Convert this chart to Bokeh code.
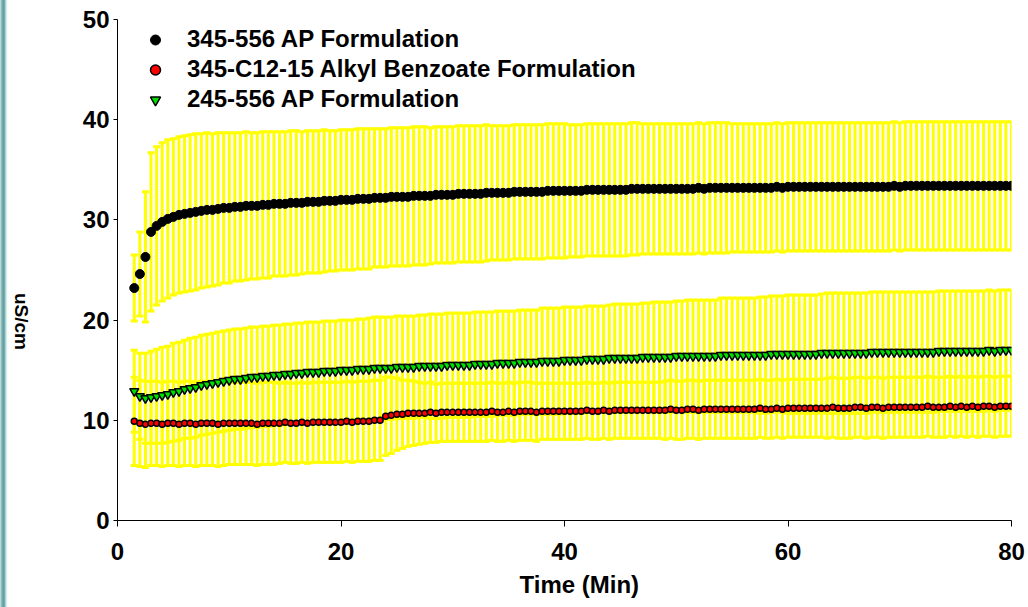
import math
from bokeh.plotting import figure
from bokeh.layouts import row
from bokeh.models import (ColumnDataSource, Whisker, TeeHead, Legend, LegendItem,
                          Range1d, FixedTicker, Div, Title)
from bokeh.embed import file_html
from bokeh.resources import INLINE

# ---------------- data ----------------
time_min = [
    1.5, 2.0, 2.5, 3.0, 3.5, 4.0, 4.5, 5.0, 5.5, 6.0,
    6.5, 7.0, 7.5, 8.0, 8.5, 9.0, 9.5, 10.0, 10.5, 11.0,
    11.5, 12.0, 12.5, 13.0, 13.5, 14.0, 14.5, 15.0, 15.5, 16.0,
    16.5, 17.0, 17.5, 18.0, 18.5, 19.0, 19.5, 20.0, 20.5, 21.0,
    21.5, 22.0, 22.5, 23.0, 23.5, 24.0, 24.5, 25.0, 25.5, 26.0,
    26.5, 27.0, 27.5, 28.0, 28.5, 29.0, 29.5, 30.0, 30.5, 31.0,
    31.5, 32.0, 32.5, 33.0, 33.5, 34.0, 34.5, 35.0, 35.5, 36.0,
    36.5, 37.0, 37.5, 38.0, 38.5, 39.0, 39.5, 40.0, 40.5, 41.0,
    41.5, 42.0, 42.5, 43.0, 43.5, 44.0, 44.5, 45.0, 45.5, 46.0,
    46.5, 47.0, 47.5, 48.0, 48.5, 49.0, 49.5, 50.0, 50.5, 51.0,
    51.5, 52.0, 52.5, 53.0, 53.5, 54.0, 54.5, 55.0, 55.5, 56.0,
    56.5, 57.0, 57.5, 58.0, 58.5, 59.0, 59.5, 60.0, 60.5, 61.0,
    61.5, 62.0, 62.5, 63.0, 63.5, 64.0, 64.5, 65.0, 65.5, 66.0,
    66.5, 67.0, 67.5, 68.0, 68.5, 69.0, 69.5, 70.0, 70.5, 71.0,
    71.5, 72.0, 72.5, 73.0, 73.5, 74.0, 74.5, 75.0, 75.5, 76.0,
    76.5, 77.0, 77.5, 78.0, 78.5, 79.0, 79.5, 80.0,
]

# 345-556 AP Formulation
ap345_mean = [
    23.2, 24.6, 26.3, 28.8, 29.4, 29.8, 30.1, 30.3, 30.5, 30.6,
    30.7, 30.8, 30.9, 31.0, 31.0, 31.1, 31.2, 31.2, 31.3, 31.3,
    31.4, 31.4, 31.4, 31.5, 31.5, 31.6, 31.6, 31.6, 31.7, 31.7,
    31.7, 31.8, 31.8, 31.8, 31.9, 31.9, 31.9, 32.0, 32.0, 32.0,
    32.1, 32.1, 32.1, 32.2, 32.2, 32.2, 32.3, 32.3, 32.3, 32.3,
    32.4, 32.4, 32.4, 32.4, 32.5, 32.5, 32.5, 32.5, 32.6, 32.6,
    32.6, 32.6, 32.6, 32.7, 32.7, 32.7, 32.7, 32.7, 32.8, 32.8,
    32.8, 32.8, 32.8, 32.8, 32.9, 32.9, 32.9, 32.9, 32.9, 32.9,
    32.9, 33.0, 33.0, 33.0, 33.0, 33.0, 33.0, 33.0, 33.0, 33.1,
    33.1, 33.1, 33.1, 33.1, 33.1, 33.1, 33.1, 33.1, 33.1, 33.1,
    33.1, 33.2, 33.1, 33.2, 33.2, 33.2, 33.2, 33.2, 33.2, 33.2,
    33.2, 33.2, 33.2, 33.2, 33.2, 33.3, 33.2, 33.3, 33.3, 33.3,
    33.3, 33.3, 33.3, 33.3, 33.3, 33.3, 33.3, 33.3, 33.3, 33.3,
    33.3, 33.3, 33.3, 33.3, 33.3, 33.3, 33.4, 33.3, 33.4, 33.4,
    33.4, 33.4, 33.4, 33.4, 33.4, 33.4, 33.4, 33.4, 33.4, 33.4,
    33.4, 33.4, 33.4, 33.4, 33.4, 33.4, 33.4, 33.4,
]
ap345_sd = [
    3.3, 4.2, 6.5, 7.9, 7.9, 7.9, 7.9, 7.8, 7.8, 7.8,
    7.8, 7.8, 7.7, 7.7, 7.6, 7.6, 7.5, 7.5, 7.4, 7.4,
    7.4, 7.3, 7.3, 7.3, 7.3, 7.2, 7.2, 7.2, 7.2, 7.2,
    7.1, 7.1, 7.1, 7.1, 7.1, 7.0, 7.0, 7.0, 7.0, 7.0,
    7.0, 7.0, 7.0, 6.9, 6.9, 6.9, 6.9, 6.9, 6.9, 6.9,
    6.9, 6.9, 6.9, 6.8, 6.8, 6.8, 6.8, 6.8, 6.8, 6.8,
    6.8, 6.8, 6.8, 6.8, 6.7, 6.7, 6.7, 6.7, 6.7, 6.7,
    6.7, 6.7, 6.7, 6.7, 6.7, 6.7, 6.7, 6.7, 6.6, 6.6,
    6.6, 6.6, 6.6, 6.6, 6.6, 6.6, 6.6, 6.6, 6.6, 6.6,
    6.6, 6.5, 6.5, 6.5, 6.5, 6.5, 6.5, 6.5, 6.5, 6.5,
    6.5, 6.5, 6.5, 6.5, 6.5, 6.5, 6.5, 6.4, 6.4, 6.4,
    6.4, 6.4, 6.4, 6.4, 6.4, 6.4, 6.4, 6.4, 6.4, 6.4,
    6.4, 6.4, 6.4, 6.4, 6.4, 6.4, 6.4, 6.4, 6.4, 6.4,
    6.4, 6.4, 6.4, 6.4, 6.4, 6.4, 6.4, 6.4, 6.4, 6.4,
    6.4, 6.4, 6.4, 6.4, 6.4, 6.4, 6.4, 6.4, 6.4, 6.4,
    6.4, 6.4, 6.4, 6.4, 6.4, 6.4, 6.4, 6.4,
]

# 345-C12-15 Alkyl Benzoate Formulation
c1215_mean = [
    9.9, 9.7, 9.6, 9.7, 9.7, 9.6, 9.7, 9.7, 9.6, 9.7,
    9.7, 9.6, 9.7, 9.7, 9.7, 9.6, 9.7, 9.7, 9.7, 9.7,
    9.7, 9.7, 9.6, 9.7, 9.7, 9.7, 9.7, 9.8, 9.7, 9.7,
    9.8, 9.7, 9.8, 9.8, 9.8, 9.8, 9.8, 9.8, 9.9, 9.8,
    9.9, 9.9, 9.9, 10.0, 10.0, 10.4, 10.5, 10.6, 10.6, 10.7,
    10.7, 10.7, 10.7, 10.8, 10.7, 10.8, 10.8, 10.8, 10.8, 10.8,
    10.8, 10.8, 10.8, 10.8, 10.9, 10.8, 10.8, 10.9, 10.8, 10.9,
    10.9, 10.9, 10.8, 10.9, 10.9, 10.9, 10.9, 10.9, 10.9, 10.9,
    10.9, 11.0, 10.9, 10.9, 11.0, 10.9, 11.0, 11.0, 11.0, 11.0,
    11.0, 11.0, 11.0, 11.0, 11.0, 11.0, 11.1, 11.0, 11.0, 11.1,
    11.1, 11.0, 11.1, 11.1, 11.1, 11.1, 11.1, 11.1, 11.1, 11.1,
    11.1, 11.1, 11.2, 11.1, 11.1, 11.2, 11.1, 11.2, 11.2, 11.2,
    11.2, 11.2, 11.2, 11.2, 11.2, 11.3, 11.2, 11.2, 11.2, 11.3,
    11.3, 11.2, 11.3, 11.3, 11.2, 11.3, 11.3, 11.3, 11.3, 11.3,
    11.3, 11.3, 11.4, 11.3, 11.3, 11.3, 11.4, 11.3, 11.4, 11.3,
    11.4, 11.3, 11.4, 11.4, 11.3, 11.4, 11.4, 11.4,
]
c1215_sd = [
    4.4, 4.3, 4.3, 4.2, 4.2, 4.2, 4.2, 4.2, 4.2, 4.2,
    4.2, 4.2, 4.2, 4.2, 4.2, 4.2, 4.2, 4.1, 4.1, 4.1,
    4.1, 4.1, 4.1, 4.1, 4.1, 4.1, 4.0, 4.0, 4.0, 4.0,
    4.0, 4.0, 4.0, 4.0, 4.0, 4.0, 4.0, 4.0, 4.0, 4.0,
    4.0, 4.0, 4.0, 4.0, 4.0, 3.9, 3.8, 3.6, 3.4, 3.3,
    3.2, 3.1, 3.0, 3.0, 2.9, 2.9, 2.9, 2.9, 2.9, 2.9,
    2.9, 2.9, 2.9, 2.9, 2.9, 2.9, 2.9, 2.9, 2.9, 2.9,
    2.9, 2.9, 2.9, 2.8, 2.8, 2.8, 2.8, 2.8, 2.8, 2.8,
    2.8, 2.8, 2.8, 2.8, 2.8, 2.8, 2.8, 2.8, 2.8, 2.8,
    2.8, 2.8, 2.8, 2.8, 2.8, 2.9, 2.9, 2.9, 2.9, 2.9,
    2.9, 2.9, 2.9, 2.9, 2.9, 2.9, 2.9, 2.9, 2.9, 2.9,
    2.9, 2.9, 2.9, 2.9, 2.9, 2.9, 2.9, 2.9, 2.9, 2.9,
    2.9, 2.9, 2.9, 2.9, 3.0, 3.0, 3.0, 3.0, 3.0, 3.0,
    3.0, 3.0, 3.0, 3.0, 3.0, 3.0, 3.0, 3.0, 3.0, 3.0,
    3.0, 3.0, 3.0, 3.0, 3.0, 3.0, 3.0, 3.0, 3.0, 3.0,
    3.0, 3.0, 3.0, 3.0, 3.0, 3.0, 3.0, 3.0,
]

# 245-556 AP Formulation
ap245_mean = [
    12.9, 12.4, 12.2, 12.3, 12.4, 12.5, 12.6, 12.8, 12.9, 13.1,
    13.2, 13.3, 13.5, 13.6, 13.7, 13.8, 13.9, 14.0, 14.1, 14.1,
    14.2, 14.3, 14.3, 14.4, 14.4, 14.5, 14.5, 14.6, 14.6, 14.7,
    14.7, 14.8, 14.8, 14.8, 14.9, 14.9, 14.9, 15.0, 15.0, 15.0,
    15.1, 15.1, 15.1, 15.2, 15.2, 15.2, 15.2, 15.3, 15.3, 15.3,
    15.3, 15.4, 15.4, 15.4, 15.4, 15.4, 15.5, 15.5, 15.5, 15.5,
    15.5, 15.6, 15.6, 15.6, 15.6, 15.7, 15.7, 15.7, 15.7, 15.8,
    15.8, 15.8, 15.8, 15.9, 15.9, 15.9, 15.9, 16.0, 16.0, 16.0,
    16.0, 16.1, 16.1, 16.1, 16.1, 16.2, 16.2, 16.2, 16.2, 16.2,
    16.2, 16.3, 16.3, 16.3, 16.3, 16.3, 16.3, 16.4, 16.4, 16.4,
    16.4, 16.4, 16.4, 16.4, 16.4, 16.5, 16.5, 16.5, 16.5, 16.5,
    16.5, 16.5, 16.5, 16.5, 16.6, 16.6, 16.6, 16.6, 16.6, 16.6,
    16.6, 16.6, 16.6, 16.7, 16.7, 16.7, 16.7, 16.7, 16.7, 16.7,
    16.7, 16.7, 16.8, 16.8, 16.8, 16.8, 16.8, 16.8, 16.8, 16.8,
    16.8, 16.8, 16.8, 16.8, 16.9, 16.9, 16.9, 16.9, 16.9, 16.9,
    16.9, 16.9, 16.9, 17.0, 16.9, 17.0, 17.0, 17.0,
]
ap245_sd = [
    4.1, 4.3, 4.5, 4.6, 4.7, 4.8, 4.8, 4.9, 4.9, 4.9,
    5.0, 5.0, 5.0, 5.0, 5.0, 5.0, 5.0, 5.0, 5.0, 5.0,
    5.0, 5.0, 5.0, 5.0, 5.0, 5.0, 5.0, 5.0, 5.0, 5.0,
    5.0, 5.0, 5.0, 5.0, 5.0, 5.0, 5.0, 5.0, 5.0, 5.0,
    5.0, 5.0, 5.1, 5.1, 5.1, 5.1, 5.1, 5.1, 5.1, 5.1,
    5.1, 5.1, 5.1, 5.2, 5.2, 5.2, 5.2, 5.2, 5.2, 5.2,
    5.2, 5.2, 5.2, 5.2, 5.2, 5.2, 5.2, 5.2, 5.2, 5.2,
    5.2, 5.2, 5.2, 5.3, 5.3, 5.3, 5.3, 5.3, 5.3, 5.3,
    5.3, 5.3, 5.3, 5.3, 5.3, 5.3, 5.4, 5.4, 5.4, 5.4,
    5.4, 5.4, 5.4, 5.5, 5.5, 5.5, 5.5, 5.5, 5.5, 5.6,
    5.6, 5.6, 5.6, 5.6, 5.6, 5.7, 5.7, 5.7, 5.7, 5.7,
    5.7, 5.7, 5.8, 5.8, 5.8, 5.8, 5.8, 5.9, 5.9, 5.9,
    5.9, 5.9, 5.9, 5.9, 6.0, 6.0, 6.0, 6.0, 6.0, 6.0,
    6.0, 6.0, 6.0, 6.0, 6.0, 6.0, 6.0, 6.0, 6.0, 6.0,
    6.0, 6.0, 6.0, 6.0, 6.0, 6.0, 6.0, 6.0, 6.0, 6.0,
    6.0, 6.0, 6.0, 6.0, 6.0, 6.0, 6.0, 6.0,
]

x_ticks = [0, 20, 40, 60, 80]
y_ticks = [0, 10, 20, 30, 40, 50]
series_names = ["345-556 AP Formulation",
                "345-C12-15 Alkyl Benzoate Formulation",
                "245-556 AP Formulation"]
x_title = "Time (Min)"
y_title = "uS/cm"

# ---------------- figure ----------------
FONT = "Liberation Sans"
SIDE_W = 34           # width of the left side strip holding the y title
FRAME_LEFT = 117      # page px of the y axis
p = figure(width=1028 - SIDE_W, height=607, output_backend="svg",
           toolbar_location=None,
           x_range=Range1d(0, 80), y_range=Range1d(0, 50),
           min_border_left=FRAME_LEFT - SIDE_W, min_border_right=17,
           min_border_top=19, min_border_bottom=87)
p.outline_line_color = None
p.grid.visible = False
p.background_fill_color = "white"
p.border_fill_color = "white"

YELLOW = "#FFFF00"


def make_source(mean, sd):
    return ColumnDataSource(dict(
        t=time_min, y=mean,
        upper=[m + s for m, s in zip(mean, sd)],
        lower=[m - s for m, s in zip(mean, sd)],
    ))


srcA = make_source(ap345_mean, ap345_sd)
srcB = make_source(c1215_mean, c1215_sd)
srcC = make_source(ap245_mean, ap245_sd)

for src in (srcA, srcC, srcB):
    w = Whisker(source=src, base="t", upper="upper", lower="lower",
                dimension="height", line_color=YELLOW, line_width=3,
                upper_head=TeeHead(size=7, line_color=YELLOW, line_width=3),
                lower_head=TeeHead(size=7, line_color=YELLOW, line_width=3))
    p.add_layout(w)

rA = p.scatter("t", "y", source=srcA, marker="circle", size=9,
               fill_color="black", line_color="black")
rC = p.scatter("t", "y", source=srcC, marker="inverted_triangle", size=9,
               fill_color="#00E000", line_color="black", line_width=1.5)
rB = p.scatter("t", "y", source=srcB, marker="circle", size=6,
               fill_color="#FF0000", line_color="black", line_width=1.5)

legend = Legend(items=[LegendItem(label=series_names[0], renderers=[rA]),
                       LegendItem(label=series_names[1], renderers=[rB]),
                       LegendItem(label=series_names[2], renderers=[rC])],
                location="top_left")
legend.border_line_color = None
legend.background_fill_alpha = 0
legend.margin = 6
legend.padding = 7
legend.glyph_width = 64
legend.glyph_height = 25
legend.label_height = 25
legend.spacing = 2
legend.label_standoff = 0
legend.label_text_font = FONT
legend.label_text_font_style = "bold"
legend.label_text_font_size = "24px"
legend.label_text_color = "black"
p.add_layout(legend)

for ax in (p.xaxis, p.yaxis):
    ax.axis_line_color = "black"
    ax.axis_line_width = 1
    ax.major_tick_line_color = "black"
    ax.major_tick_in = 0
    ax.minor_tick_line_color = None
    ax.major_label_text_font = FONT
    ax.major_label_text_font_style = "bold"
    ax.major_label_text_font_size = "24px"
    ax.major_label_text_color = "black"

p.xaxis.ticker = FixedTicker(ticks=x_ticks)
p.yaxis.ticker = FixedTicker(ticks=y_ticks)
p.xaxis.major_tick_out = 6
p.yaxis.major_tick_out = 4
p.xaxis.major_label_standoff = 16
p.yaxis.major_label_standoff = 4

# x-axis title as a title panel below the axis, slightly right of centre
x_label = Title(text=x_title, align="left", offset=519 - FRAME_LEFT,
                standoff=12, text_font=FONT, text_font_style="bold",
                text_font_size="24px", text_color="black")
p.add_layout(x_label, "below")

# left side: slide border strip + vertical y-axis title (reads top to bottom)
side_html = ('<div style="position:absolute; left:12px; top:293px; '
             'writing-mode:vertical-rl; font-family:\'Liberation Sans\', Arial, '
             'sans-serif; font-weight:bold; font-size:19px; line-height:19px; '
             'color:#000; white-space:nowrap;">' + y_title + '</div>')
side = Div(text=side_html, width=SIDE_W, height=607, margin=(0, 0, 0, 0),
           styles={"position": "relative",
                   "background": "linear-gradient(to right, #cfe3e3 0px, "
                                 "#79b0b0 2px, #5d9b9b 4px, #bfe2e2 6px, "
                                 "#f2fafa 7px, #ffffff 9px, #ffffff 100%)"})

layout = row(side, p, spacing=0)
open("out.html", "w").write(file_html(layout, INLINE))
